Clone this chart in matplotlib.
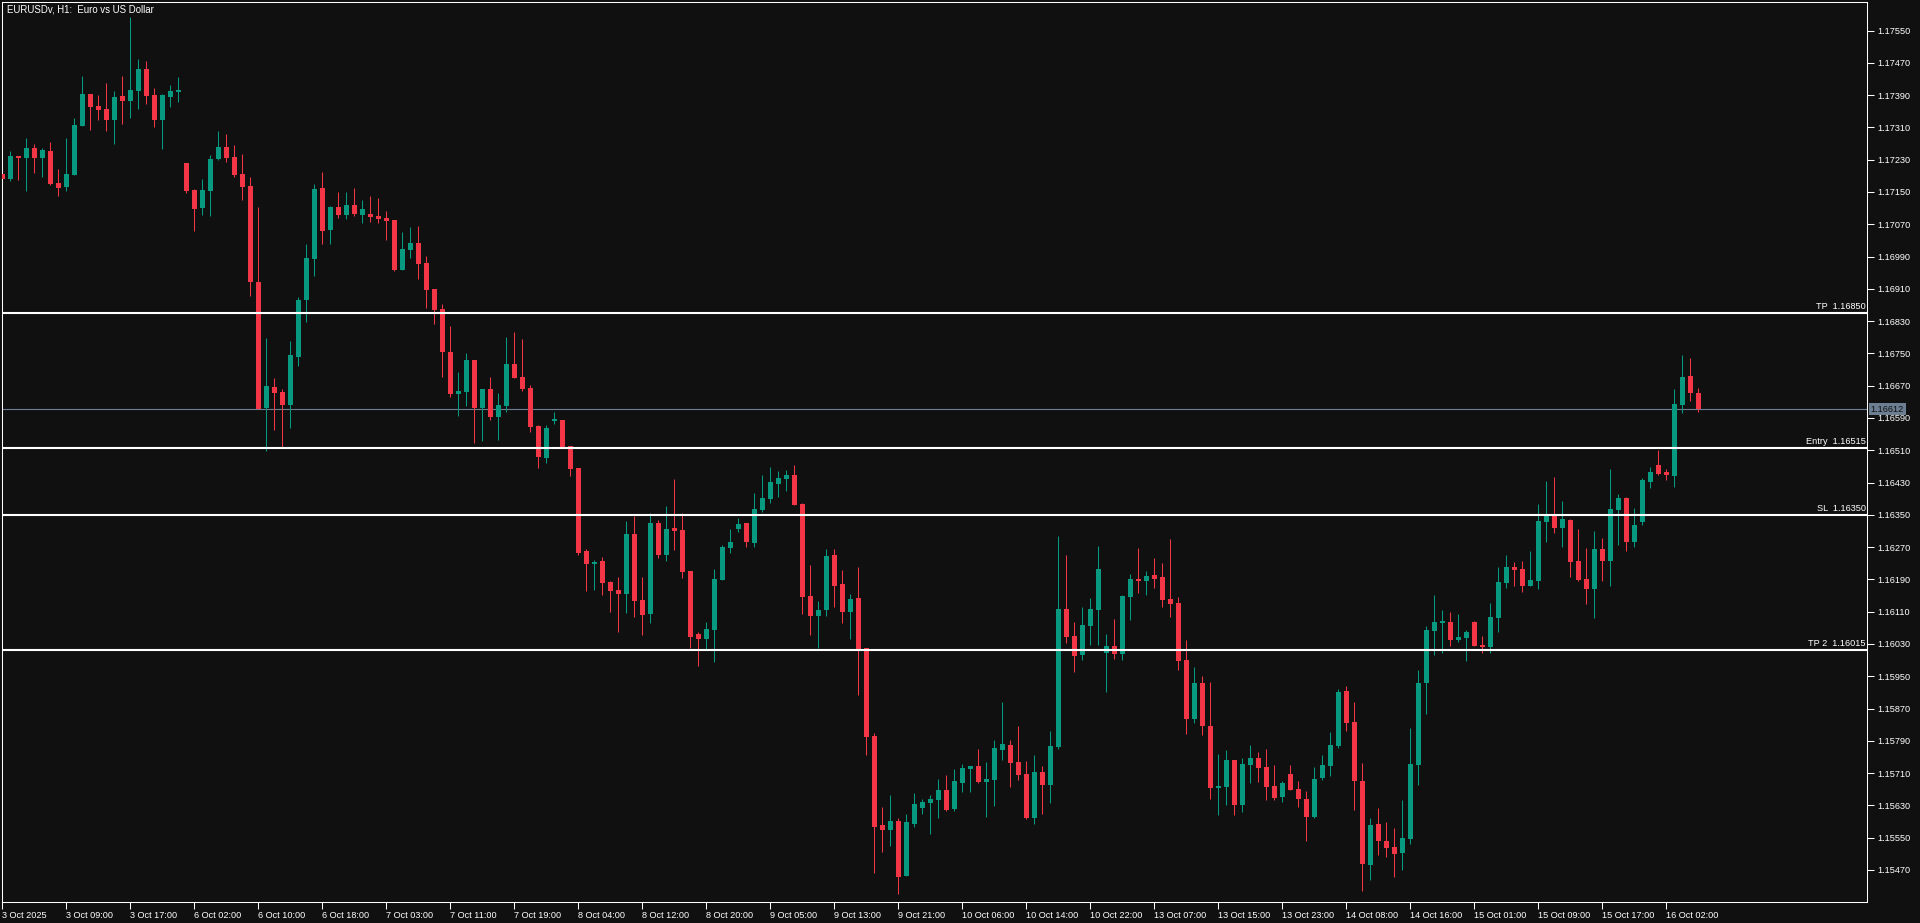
import numpy as np
import matplotlib
matplotlib.use('Agg')
import matplotlib.pyplot as plt

# colours of the terminal theme
BG = '#101010'
UP = '#089981'
DOWN = '#f23645'
plt.rcParams['font.family'] = ['Liberation Sans', 'DejaVu Sans']
FS = 6.6

# EURUSD H1 candles
opens = [
    1.17195, 1.17182, 1.17239, 1.17233, 1.17259, 1.17235, 1.17252, 1.17172, 1.17163, 1.17192,
    1.17314, 1.17393, 1.17363, 1.17356, 1.17328, 1.17388, 1.17376, 1.17400, 1.17455, 1.17390,
    1.17328, 1.17385, 1.17398, 1.17222, 1.17155, 1.17110, 1.17153, 1.17232, 1.17262, 1.17237,
    1.17195, 1.17165, 1.16927, 1.16615, 1.16667, 1.16654, 1.16622, 1.16741, 1.16882, 1.16984,
    1.17160, 1.17056, 1.17113, 1.17093, 1.17118, 1.17093, 1.17096, 1.17091, 1.17086, 1.17081,
    1.16957, 1.17006, 1.17024, 1.16974, 1.16910, 1.16860, 1.16754, 1.16650, 1.16654, 1.16734,
    1.16615, 1.16662, 1.16593, 1.16620, 1.16724, 1.16692, 1.16664, 1.16570, 1.16491, 1.16583,
    1.16585, 1.16521, 1.16466, 1.16260, 1.16228, 1.16236, 1.16184, 1.16164, 1.16154, 1.16303,
    1.16139, 1.16104, 1.16330, 1.16251, 1.16317, 1.16313, 1.16211, 1.16055, 1.16042, 1.16065,
    1.16189, 1.16268, 1.16315, 1.16330, 1.16280, 1.16362, 1.16389, 1.16427, 1.16439, 1.16449,
    1.16377, 1.16149, 1.16099, 1.16114, 1.16251, 1.16179, 1.16109, 1.16144, 1.16020, 1.15802,
    1.15582, 1.15569, 1.15591, 1.15455, 1.15584, 1.15624, 1.15636, 1.15643, 1.15668, 1.15621,
    1.15686, 1.15720, 1.15728, 1.15688, 1.15693, 1.15767, 1.15780, 1.15738, 1.15708, 1.15599,
    1.15713, 1.15681, 1.15775, 1.16117, 1.16050, 1.16003, 1.16075, 1.16114, 1.16008, 1.16025,
    1.16005, 1.16146, 1.16191, 1.16186, 1.16201, 1.16196, 1.16142, 1.16132, 1.15990, 1.15844,
    1.15933, 1.15827, 1.15673, 1.15676, 1.15743, 1.15631, 1.15730, 1.15748, 1.15725, 1.15678,
    1.15651, 1.15708, 1.15671, 1.15646, 1.15601, 1.15698, 1.15728, 1.15777, 1.15914, 1.15837,
    1.15691, 1.15482, 1.15584, 1.15542, 1.15527, 1.15512, 1.15547, 1.15730, 1.15933, 1.16062,
    1.16082, 1.16085, 1.16040, 1.16045, 1.16085, 1.16028, 1.16023, 1.16094, 1.16181, 1.16221,
    1.16216, 1.16174, 1.16186, 1.16332, 1.16347, 1.16317, 1.16337, 1.16236, 1.16191, 1.16166,
    1.16265, 1.16236, 1.16362, 1.16392, 1.16283, 1.16332, 1.16431, 1.16474, 1.16456, 1.16446,
    1.16622, 1.16694, 1.16652,
]
highs = [
    1.17195, 1.17252, 1.17239, 1.17284, 1.17269, 1.17259, 1.17274, 1.17207, 1.17284, 1.17333,
    1.17438, 1.17393, 1.17390, 1.17420, 1.17400, 1.17438, 1.17584, 1.17480, 1.17475, 1.17408,
    1.17393, 1.17415, 1.17435, 1.17222, 1.17158, 1.17182, 1.17242, 1.17301, 1.17294, 1.17267,
    1.17244, 1.17187, 1.17113, 1.16788, 1.16689, 1.16662, 1.16781, 1.16890, 1.17021, 1.17170,
    1.17200, 1.17115, 1.17150, 1.17150, 1.17160, 1.17130, 1.17140, 1.17135, 1.17103, 1.17081,
    1.17051, 1.17063, 1.17066, 1.16991, 1.16910, 1.16873, 1.16818, 1.16704, 1.16751, 1.16734,
    1.16662, 1.16692, 1.16652, 1.16791, 1.16803, 1.16786, 1.16672, 1.16573, 1.16573, 1.16605,
    1.16585, 1.16521, 1.16466, 1.16265, 1.16238, 1.16246, 1.16186, 1.16196, 1.16335, 1.16347,
    1.16196, 1.16355, 1.16337, 1.16372, 1.16439, 1.16355, 1.16211, 1.16060, 1.16085, 1.16216,
    1.16275, 1.16315, 1.16342, 1.16330, 1.16404, 1.16449, 1.16469, 1.16459, 1.16461, 1.16474,
    1.16379, 1.16226, 1.16137, 1.16265, 1.16265, 1.16213, 1.16154, 1.16221, 1.16020, 1.15809,
    1.15626, 1.15656, 1.15599, 1.15609, 1.15661, 1.15646, 1.15656, 1.15695, 1.15705, 1.15720,
    1.15733, 1.15728, 1.15770, 1.15738, 1.15792, 1.15886, 1.15792, 1.15827, 1.15740, 1.15755,
    1.15728, 1.15814, 1.16298, 1.16251, 1.16085, 1.16122, 1.16144, 1.16273, 1.16055, 1.16092,
    1.16151, 1.16203, 1.16268, 1.16211, 1.16243, 1.16231, 1.16290, 1.16146, 1.16040, 1.15973,
    1.15951, 1.15936, 1.15757, 1.15767, 1.15743, 1.15748, 1.15780, 1.15762, 1.15770, 1.15730,
    1.15691, 1.15730, 1.15691, 1.15666, 1.15725, 1.15755, 1.15812, 1.15919, 1.15926, 1.15886,
    1.15735, 1.15599, 1.15624, 1.15589, 1.15574, 1.15643, 1.15822, 1.15966, 1.16075, 1.16151,
    1.16114, 1.16109, 1.16104, 1.16065, 1.16087, 1.16050, 1.16132, 1.16221, 1.16251, 1.16233,
    1.16236, 1.16260, 1.16377, 1.16434, 1.16444, 1.16384, 1.16340, 1.16315, 1.16268, 1.16310,
    1.16293, 1.16464, 1.16402, 1.16394, 1.16367, 1.16441, 1.16469, 1.16511, 1.16464, 1.16662,
    1.16746, 1.16739, 1.16664,
]
lows = [
    1.17182, 1.17177, 1.17180, 1.17153, 1.17198, 1.17188, 1.17167, 1.17141, 1.17153, 1.17192,
    1.17314, 1.17304, 1.17328, 1.17301, 1.17269, 1.17319, 1.17333, 1.17356, 1.17368, 1.17311,
    1.17257, 1.17361, 1.17373, 1.17148, 1.17053, 1.17093, 1.17091, 1.17229, 1.17224, 1.17187,
    1.17130, 1.16892, 1.16612, 1.16508, 1.16560, 1.16518, 1.16565, 1.16719, 1.16828, 1.16942,
    1.17021, 1.17021, 1.17086, 1.17083, 1.17091, 1.17073, 1.17076, 1.17073, 1.17031, 1.16954,
    1.16957, 1.16987, 1.16934, 1.16863, 1.16823, 1.16692, 1.16642, 1.16595, 1.16620, 1.16528,
    1.16533, 1.16585, 1.16536, 1.16605, 1.16689, 1.16657, 1.16555, 1.16466, 1.16479, 1.16575,
    1.16518, 1.16446, 1.16251, 1.16161, 1.16164, 1.16151, 1.16109, 1.16060, 1.16107, 1.16097,
    1.16052, 1.16082, 1.16243, 1.16236, 1.16263, 1.16194, 1.16020, 1.15976, 1.16018, 1.15985,
    1.16189, 1.16256, 1.16308, 1.16270, 1.16270, 1.16357, 1.16379, 1.16394, 1.16409, 1.16374,
    1.16104, 1.16052, 1.16020, 1.16099, 1.16122, 1.16082, 1.16042, 1.15904, 1.15755, 1.15463,
    1.15515, 1.15529, 1.15411, 1.15455, 1.15577, 1.15609, 1.15559, 1.15599, 1.15616, 1.15616,
    1.15663, 1.15663, 1.15686, 1.15601, 1.15629, 1.15743, 1.15676, 1.15693, 1.15596, 1.15584,
    1.15609, 1.15636, 1.15770, 1.16033, 1.15961, 1.15990, 1.16028, 1.16028, 1.15911, 1.15993,
    1.15990, 1.16089, 1.16156, 1.16151, 1.16169, 1.16122, 1.16097, 1.15966, 1.15807, 1.15834,
    1.15805, 1.15646, 1.15606, 1.15631, 1.15606, 1.15614, 1.15686, 1.15688, 1.15643, 1.15643,
    1.15638, 1.15668, 1.15626, 1.15542, 1.15599, 1.15693, 1.15703, 1.15772, 1.15814, 1.15619,
    1.15418, 1.15445, 1.15507, 1.15502, 1.15453, 1.15470, 1.15534, 1.15681, 1.15857, 1.16003,
    1.16008, 1.16025, 1.16035, 1.15988, 1.16025, 1.16008, 1.16008, 1.16060, 1.16169, 1.16174,
    1.16159, 1.16174, 1.16166, 1.16283, 1.16305, 1.16270, 1.16196, 1.16186, 1.16129, 1.16094,
    1.16186, 1.16174, 1.16275, 1.16260, 1.16270, 1.16325, 1.16417, 1.16449, 1.16436, 1.16419,
    1.16602, 1.16632, 1.16605,
]
closes = [
    1.17182, 1.17239, 1.17233, 1.17259, 1.17235, 1.17254, 1.17170, 1.17161, 1.17195, 1.17316,
    1.17393, 1.17361, 1.17353, 1.17328, 1.17385, 1.17376, 1.17403, 1.17455, 1.17388, 1.17328,
    1.17390, 1.17400, 1.17403, 1.17153, 1.17108, 1.17155, 1.17232, 1.17262, 1.17234, 1.17192,
    1.17162, 1.16927, 1.16612, 1.16669, 1.16652, 1.16622, 1.16746, 1.16882, 1.16987, 1.17158,
    1.17053, 1.17113, 1.17093, 1.17118, 1.17096, 1.17108, 1.17088, 1.17083, 1.17078, 1.16957,
    1.17009, 1.17024, 1.16972, 1.16907, 1.16858, 1.16754, 1.16650, 1.16657, 1.16734, 1.16615,
    1.16662, 1.16593, 1.16622, 1.16724, 1.16689, 1.16662, 1.16568, 1.16493, 1.16565, 1.16585,
    1.16518, 1.16464, 1.16256, 1.16228, 1.16231, 1.16181, 1.16161, 1.16154, 1.16303, 1.16137,
    1.16102, 1.16330, 1.16251, 1.16315, 1.16310, 1.16208, 1.16047, 1.16042, 1.16067, 1.16191,
    1.16270, 1.16283, 1.16327, 1.16283, 1.16365, 1.16392, 1.16431, 1.16441, 1.16449, 1.16374,
    1.16146, 1.16099, 1.16114, 1.16248, 1.16174, 1.16109, 1.16142, 1.16015, 1.15800, 1.15577,
    1.15569, 1.15591, 1.15453, 1.15589, 1.15634, 1.15638, 1.15646, 1.15668, 1.15619, 1.15691,
    1.15723, 1.15728, 1.15688, 1.15695, 1.15772, 1.15782, 1.15735, 1.15705, 1.15599, 1.15713,
    1.15681, 1.15777, 1.16117, 1.16047, 1.16000, 1.16077, 1.16117, 1.16216, 1.16025, 1.16005,
    1.16149, 1.16191, 1.16186, 1.16199, 1.16191, 1.16139, 1.16129, 1.15988, 1.15844, 1.15933,
    1.15827, 1.15673, 1.15678, 1.15743, 1.15631, 1.15733, 1.15748, 1.15723, 1.15676, 1.15648,
    1.15686, 1.15668, 1.15646, 1.15601, 1.15696, 1.15730, 1.15780, 1.15911, 1.15834, 1.15691,
    1.15485, 1.15582, 1.15542, 1.15525, 1.15510, 1.15549, 1.15733, 1.15933, 1.16065, 1.16085,
    1.16085, 1.16040, 1.16047, 1.16060, 1.16025, 1.16023, 1.16097, 1.16184, 1.16221, 1.16213,
    1.16174, 1.16189, 1.16335, 1.16347, 1.16317, 1.16340, 1.16233, 1.16189, 1.16166, 1.16265,
    1.16236, 1.16365, 1.16392, 1.16283, 1.16325, 1.16436, 1.16456, 1.16451, 1.16449, 1.16625,
    1.16692, 1.16652, 1.16612,
]

x_labels = ['3 Oct 2025', '3 Oct 09:00', '3 Oct 17:00', '6 Oct 02:00', '6 Oct 10:00',
            '6 Oct 18:00', '7 Oct 03:00', '7 Oct 11:00', '7 Oct 19:00', '8 Oct 04:00',
            '8 Oct 12:00', '8 Oct 20:00', '9 Oct 05:00', '9 Oct 13:00', '9 Oct 21:00',
            '10 Oct 06:00', '10 Oct 14:00', '10 Oct 22:00', '13 Oct 07:00', '13 Oct 15:00',
            '13 Oct 23:00', '14 Oct 08:00', '14 Oct 16:00', '15 Oct 01:00', '15 Oct 09:00',
            '15 Oct 17:00', '16 Oct 02:00']
y_ticks = [1.15470, 1.15550, 1.15630, 1.15710, 1.15790, 1.15870, 1.15950, 1.16030,
           1.16110, 1.16190, 1.16270, 1.16350, 1.16430, 1.16510, 1.16590, 1.16670,
           1.16750, 1.16830, 1.16910, 1.16990, 1.17070, 1.17150, 1.17230, 1.17310,
           1.17390, 1.17470, 1.17550]

level_names = ['TP', 'Entry', 'SL', 'TP 2']
level_prices = [1.16850, 1.16515, 1.16350, 1.16015]
last_price = 1.16612

o = np.array(opens)
h = np.array(highs)
l = np.array(lows)
c = np.array(closes)
x = np.arange(len(o))
cols = np.where(c >= o, UP, DOWN)

fig = plt.figure(figsize=(19.2, 9.23), dpi=100, facecolor=BG)
ax = fig.add_axes([2.3 / 1920, 21 / 923, 1865 / 1920, 900 / 923])
ax.set_facecolor(BG)

# current price line sits behind the candles
ax.axhline(last_price, color='#6c7e92', lw=0.8, zorder=1)

ax.vlines(x, l, h, colors=cols, linewidth=0.75, zorder=2)
body = np.maximum(np.abs(c - o), 0.00004)
ax.bar(x, body, bottom=np.minimum(o, c), width=0.625, color=cols, linewidth=0, zorder=3)

trans = ax.get_yaxis_transform()
for name, p in zip(level_names, level_prices):
    ax.axhline(p, color='white', lw=1.5, zorder=4)
    ax.text(0.9992, p + 0.00005, f'{name}  {p:.5f}', transform=trans, ha='right',
            va='bottom', fontsize=FS, color='white', zorder=5)

ax.text(1.0018, last_price, f'{last_price:.5f}', transform=trans, ha='left', va='center',
        fontsize=FS, color='#101010', clip_on=False,
        bbox=dict(boxstyle='square,pad=0.2', fc='#6c7e92', ec='none'))

ax.set_xlim(0, 233.1)
ax.set_ylim(1.153906, 1.176208)

ax.yaxis.tick_right()
ax.set_yticks(y_ticks)
ax.set_yticklabels([f'{t:.5f}' for t in y_ticks])
ax.set_xticks(range(0, 8 * len(x_labels), 8))
ax.set_xticklabels(x_labels, ha='left')
ax.tick_params(axis='both', colors='white', labelcolor='white', length=5, width=0.75,
               labelsize=FS, direction='out')
ax.tick_params(axis='y', pad=2)
ax.tick_params(axis='x', pad=1.5)
for s in ax.spines.values():
    s.set_color('white')
    s.set_linewidth(0.75)

fig.text(7 / 1920, 1 - 10 / 923, 'EURUSDv, H1:  Euro vs US Dollar', color='white',
         fontsize=FS + 0.3, va='center', ha='left')

fig.savefig('out.png', dpi=100, facecolor=BG)
